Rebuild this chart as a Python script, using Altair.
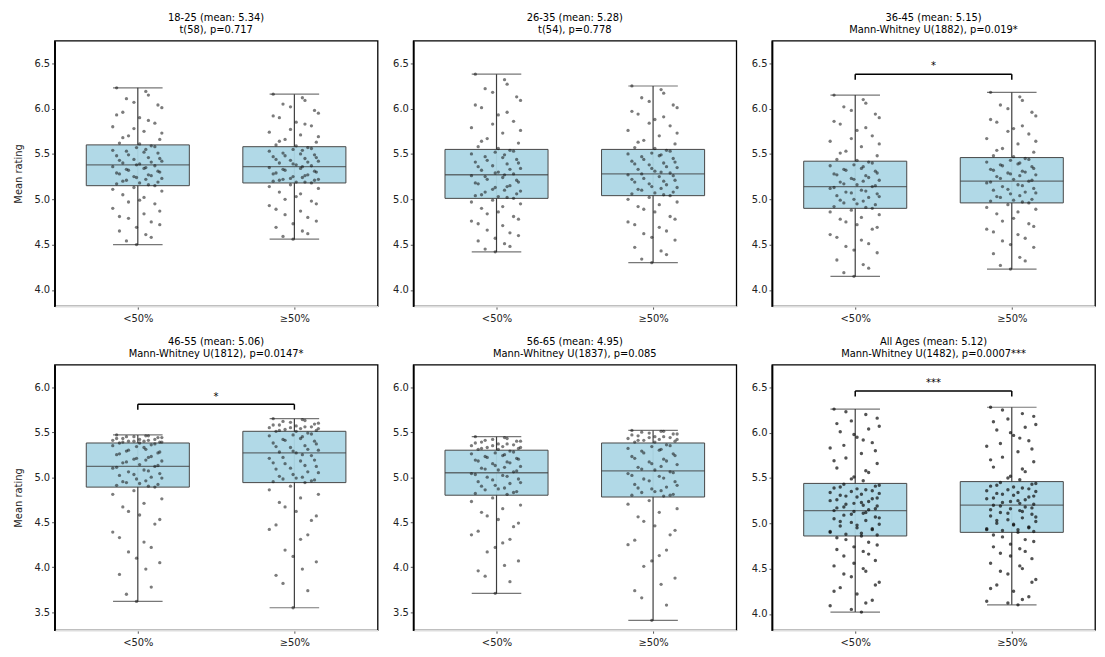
import altair as alt
import pandas as pd

GROUPS = ["<50%", "≥50%"]
TITLES = ["18-25 (mean: 5.34)", "26-35 (mean: 5.28)", "36-45 (mean: 5.15)",
          "46-55 (mean: 5.06)", "56-65 (mean: 4.95)", "All Ages (mean: 5.12)"]
SUBTITLES = ["t(58), p=0.717", "t(54), p=0.778", "Mann-Whitney U(1882), p=0.019*",
             "Mann-Whitney U(1812), p=0.0147*", "Mann-Whitney U(1837), p=0.085",
             "Mann-Whitney U(1482), p=0.0007***"]
Y_TITLE = "Mean rating"

# box statistics per panel: [group A, group B]
WHISK_LO = [[4.50, 4.56], [4.42, 4.30], [4.15, 4.23], [3.62, 3.55], [3.71, 3.41], [4.02, 4.10]]
Q1 = [[5.15, 5.18], [5.01, 5.04], [4.90, 4.96], [4.89, 4.94], [4.80, 4.78], [4.86, 4.90]]
MEDIAN = [[5.38, 5.36], [5.27, 5.28], [5.14, 5.20], [5.12, 5.27], [5.05, 5.07], [5.14, 5.20]]
Q3 = [[5.60, 5.58], [5.55, 5.55], [5.42, 5.46], [5.38, 5.51], [5.30, 5.38], [5.44, 5.46]]
WHISK_HI = [[6.23, 6.16], [6.38, 6.25], [6.15, 6.18], [5.47, 5.65], [5.45, 5.52], [6.26, 6.28]]

Y_DOMAINS = [[3.82, 6.75], [3.82, 6.75], [3.82, 6.75], [3.30, 6.25], [3.30, 6.25], [3.82, 6.75]]
Y_TICKS = [[4.0, 4.5, 5.0, 5.5, 6.0, 6.5]] * 3 + [[3.5, 4.0, 4.5, 5.0, 5.5, 6.0]] * 2 + [[4.0, 4.5, 5.0, 5.5, 6.0, 6.5]]

BRACKET_Y = [None, None, 6.38, 5.81, None, 6.46]
BRACKET_LABEL = ["", "", "*", "*", "", "***"]

P1A = [6.23, 6.15, 6.07, 6.01, 5.96, 5.90, 5.84, 5.80, 5.75, 5.70, 5.66, 5.62,
       5.59, 5.57, 5.55, 5.53, 5.51, 5.48, 5.46, 5.44, 5.42, 5.40, 5.39, 5.37, 5.36, 5.34, 5.32, 5.30, 5.28, 5.26, 5.24, 5.22, 5.21, 5.19, 5.17, 5.16,
       5.13, 5.09, 5.05, 4.99, 4.95, 4.90, 4.84, 4.79, 4.72, 4.65, 4.58, 4.50,
       6.19, 6.11, 6.04, 5.93, 5.87, 5.78, 5.73, 5.68, 5.61,
       5.58, 5.54, 5.52, 5.49, 5.45, 5.43, 5.41, 5.38, 5.35, 5.33, 5.31, 5.29, 5.27, 5.25, 5.23, 5.20, 5.18, 5.15,
       5.11, 5.02, 4.97, 4.87, 4.81, 4.75, 4.69, 4.61, 4.54]
P1B = [6.16, 6.09, 6.02, 5.95, 5.90, 5.85, 5.81, 5.74, 5.71, 5.66, 5.63, 5.60,
       5.57, 5.55, 5.54, 5.51, 5.49, 5.47, 5.45, 5.43, 5.42, 5.40, 5.38, 5.37, 5.35, 5.34, 5.32, 5.30, 5.29, 5.27, 5.25, 5.24, 5.22, 5.21, 5.20, 5.19,
       5.16, 5.12, 5.08, 5.03, 4.98, 4.93, 4.87, 4.83, 4.76, 4.69, 4.62, 4.56,
       6.12, 6.05, 5.98, 5.92, 5.83, 5.77, 5.69, 5.64, 5.59,
       5.56, 5.53, 5.50, 5.48, 5.46, 5.44, 5.41, 5.39, 5.36, 5.33, 5.31, 5.28, 5.26, 5.23, 5.22, 5.21, 5.19, 5.18,
       5.14, 5.06, 5.00, 4.95, 4.89, 4.80, 4.73, 4.65, 4.59]
P2A = [6.38, 6.27, 6.18, 6.09, 6.01, 5.93, 5.86, 5.79, 5.73, 5.67, 5.62, 5.58,
       5.54, 5.52, 5.49, 5.47, 5.44, 5.41, 5.39, 5.37, 5.34, 5.32, 5.30, 5.28, 5.26, 5.24, 5.22, 5.19, 5.17, 5.15, 5.13, 5.10, 5.08, 5.06, 5.04, 5.02,
       4.99, 4.95, 4.90, 4.86, 4.81, 4.76, 4.71, 4.66, 4.60, 4.54, 4.48, 4.42,
       6.32, 6.22, 6.13, 6.04, 5.96, 5.83, 5.76, 5.64, 5.56,
       5.53, 5.50, 5.46, 5.43, 5.40, 5.36, 5.33, 5.29, 5.27, 5.25, 5.21, 5.18, 5.14, 5.11, 5.09, 5.05, 5.03, 5.01,
       4.97, 4.92, 4.84, 4.78, 4.73, 4.63, 4.57, 4.51, 4.45]
P2B = [6.25, 6.17, 6.08, 6.01, 5.94, 5.88, 5.81, 5.76, 5.70, 5.65, 5.61, 5.57,
       5.54, 5.51, 5.49, 5.47, 5.45, 5.42, 5.40, 5.38, 5.35, 5.33, 5.31, 5.29, 5.27, 5.25, 5.23, 5.21, 5.19, 5.16, 5.14, 5.12, 5.10, 5.08, 5.06, 5.05,
       5.02, 4.97, 4.92, 4.86, 4.81, 4.75, 4.69, 4.62, 4.55, 4.47, 4.39, 4.30,
       6.21, 6.12, 6.04, 5.97, 5.91, 5.84, 5.73, 5.63, 5.56,
       5.53, 5.50, 5.48, 5.44, 5.41, 5.39, 5.36, 5.34, 5.30, 5.28, 5.26, 5.22, 5.20, 5.17, 5.13, 5.11, 5.07, 5.04,
       5.00, 4.94, 4.89, 4.78, 4.72, 4.65, 4.58, 4.43, 4.34]
P3A = [6.15, 6.06, 5.98, 5.90, 5.83, 5.76, 5.70, 5.64, 5.58, 5.53, 5.48, 5.44,
       5.41, 5.38, 5.36, 5.33, 5.31, 5.28, 5.26, 5.23, 5.21, 5.19, 5.16, 5.14, 5.12, 5.10, 5.08, 5.06, 5.04, 5.02, 5.00, 4.98, 4.96, 4.94, 4.92, 4.91,
       4.88, 4.83, 4.78, 4.72, 4.67, 4.61, 4.55, 4.48, 4.41, 4.33, 4.24, 4.15,
       6.10, 6.02, 5.94, 5.86, 5.79, 5.67, 5.61, 5.51, 5.43,
       5.40, 5.37, 5.34, 5.32, 5.29, 5.27, 5.24, 5.22, 5.20, 5.17, 5.15, 5.13, 5.09, 5.07, 5.03, 4.99, 4.95, 4.90,
       4.86, 4.80, 4.75, 4.69, 4.58, 4.51, 4.44, 4.28, 4.19]
P3B = [6.18, 6.09, 6.00, 5.92, 5.85, 5.78, 5.72, 5.67, 5.61, 5.56, 5.52, 5.48,
       5.45, 5.43, 5.40, 5.38, 5.36, 5.33, 5.31, 5.29, 5.27, 5.25, 5.22, 5.20, 5.18, 5.16, 5.14, 5.12, 5.10, 5.08, 5.06, 5.04, 5.02, 5.00, 4.98, 4.97,
       4.94, 4.89, 4.84, 4.79, 4.73, 4.67, 4.61, 4.54, 4.47, 4.40, 4.32, 4.23,
       6.13, 6.04, 5.96, 5.88, 5.81, 5.75, 5.64, 5.54, 5.47,
       5.44, 5.41, 5.39, 5.37, 5.34, 5.32, 5.30, 5.28, 5.26, 5.23, 5.21, 5.19, 5.15, 5.11, 5.07, 5.03, 4.99, 4.96,
       4.91, 4.86, 4.76, 4.70, 4.64, 4.57, 4.50, 4.36, 4.27]
P4A = [5.47, 5.46, 5.45, 5.44, 5.43, 5.42, 5.42, 5.41, 5.40, 5.40, 5.39, 5.38,
       5.36, 5.34, 5.31, 5.29, 5.27, 5.25, 5.22, 5.20, 5.18, 5.16, 5.14, 5.12, 5.10, 5.08, 5.06, 5.04, 5.02, 5.00, 4.98, 4.96, 4.94, 4.92, 4.91, 4.90,
       4.85, 4.76, 4.67, 4.58, 4.48, 4.39, 4.28, 4.17, 4.05, 3.92, 3.78, 3.62,
       5.46, 5.45, 5.44, 5.43, 5.41, 5.40, 5.39, 5.39, 5.38,
       5.37, 5.35, 5.33, 5.30, 5.28, 5.26, 5.23, 5.21, 5.19, 5.17, 5.13, 5.11, 5.07, 5.03, 4.99, 4.95, 4.93, 4.89,
       4.81, 4.71, 4.62, 4.53, 4.33, 4.22, 4.10, 3.98, 3.70]
P4B = [5.65, 5.63, 5.61, 5.60, 5.58, 5.57, 5.56, 5.55, 5.54, 5.53, 5.52, 5.51,
       5.49, 5.47, 5.45, 5.42, 5.40, 5.38, 5.35, 5.33, 5.30, 5.28, 5.27, 5.24, 5.21, 5.18, 5.15, 5.12, 5.09, 5.06, 5.03, 5.00, 4.98, 4.97, 4.95, 4.94,
       4.90, 4.81, 4.72, 4.62, 4.52, 4.42, 4.31, 4.19, 4.06, 3.91, 3.74, 3.55,
       5.64, 5.62, 5.59, 5.58, 5.56, 5.55, 5.54, 5.52, 5.51,
       5.48, 5.46, 5.43, 5.41, 5.37, 5.34, 5.31, 5.29, 5.25, 5.22, 5.19, 5.16, 5.13, 5.10, 5.05, 5.01, 4.99, 4.96,
       4.86, 4.77, 4.67, 4.57, 4.47, 4.36, 4.12, 3.98, 3.82]
P5A = [5.45, 5.43, 5.42, 5.40, 5.39, 5.37, 5.36, 5.35, 5.34, 5.33, 5.32, 5.31,
       5.29, 5.27, 5.25, 5.23, 5.21, 5.19, 5.17, 5.15, 5.12, 5.10, 5.08, 5.06, 5.04, 5.02, 5.00, 4.98, 4.95, 4.93, 4.91, 4.88, 4.86, 4.84, 4.82, 4.81,
       4.77, 4.69, 4.61, 4.53, 4.45, 4.36, 4.27, 4.17, 4.07, 3.96, 3.84, 3.71,
       5.44, 5.41, 5.40, 5.38, 5.37, 5.35, 5.33, 5.32, 5.31,
       5.28, 5.26, 5.24, 5.22, 5.20, 5.18, 5.16, 5.13, 5.11, 5.09, 5.07, 5.03, 5.01, 4.97, 4.94, 4.90, 4.87, 4.83,
       4.73, 4.65, 4.57, 4.49, 4.40, 4.31, 4.22, 4.02, 3.90]
P5B = [5.52, 5.51, 5.49, 5.48, 5.46, 5.45, 5.44, 5.43, 5.42, 5.41, 5.40, 5.39,
       5.36, 5.34, 5.31, 5.29, 5.26, 5.23, 5.20, 5.17, 5.14, 5.11, 5.08, 5.06, 5.04, 5.01, 4.98, 4.95, 4.92, 4.89, 4.87, 4.85, 4.83, 4.81, 4.80, 4.79,
       4.74, 4.65, 4.56, 4.46, 4.36, 4.25, 4.13, 4.01, 3.88, 3.74, 3.58, 3.41,
       5.51, 5.50, 5.48, 5.47, 5.45, 5.44, 5.42, 5.41, 5.39,
       5.35, 5.32, 5.30, 5.27, 5.24, 5.21, 5.18, 5.15, 5.12, 5.09, 5.05, 5.02, 4.99, 4.96, 4.91, 4.88, 4.84, 4.80,
       4.70, 4.61, 4.51, 4.41, 4.30, 4.19, 4.07, 3.81, 3.66]
P6A = [6.26, 6.20, 6.13, 6.07, 6.01, 5.95, 5.89, 5.83, 5.77, 5.72, 5.66, 5.61, 5.56, 5.51, 5.47,
       5.43, 5.41, 5.39, 5.37, 5.35, 5.33, 5.31, 5.29, 5.27, 5.25, 5.23, 5.21, 5.19, 5.17, 5.15, 5.13, 5.11, 5.09, 5.07, 5.05, 5.03, 5.01, 4.99, 4.97, 4.95, 4.93, 4.91, 4.89, 4.88, 4.87,
       4.84, 4.79, 4.74, 4.69, 4.64, 4.59, 4.53, 4.47, 4.41, 4.35, 4.29, 4.22, 4.15, 4.09, 4.02,
       6.23, 6.16, 6.10, 6.04, 5.98, 5.92, 5.86, 5.80, 5.69, 5.58, 5.49,
       5.42, 5.40, 5.38, 5.36, 5.34, 5.32, 5.30, 5.28, 5.26, 5.24, 5.22, 5.20, 5.18, 5.16, 5.14, 5.12, 5.10, 5.06, 5.02, 4.98, 4.94, 4.90, 4.86,
       4.82, 4.76, 4.71, 4.66, 4.56, 4.50, 4.44, 4.32, 4.25, 4.12, 4.05]
P6B = [6.28, 6.21, 6.15, 6.09, 6.03, 5.97, 5.91, 5.85, 5.79, 5.73, 5.68, 5.62, 5.57, 5.52, 5.48,
       5.45, 5.43, 5.41, 5.39, 5.37, 5.35, 5.33, 5.31, 5.29, 5.27, 5.25, 5.23, 5.21, 5.20, 5.18, 5.16, 5.14, 5.12, 5.10, 5.08, 5.06, 5.04, 5.02, 5.00, 4.98, 4.96, 4.94, 4.93, 4.92, 4.91,
       4.87, 4.82, 4.77, 4.72, 4.67, 4.61, 4.56, 4.50, 4.44, 4.38, 4.32, 4.25, 4.19, 4.14, 4.10,
       6.25, 6.18, 6.12, 6.06, 6.00, 5.94, 5.88, 5.82, 5.70, 5.60, 5.50,
       5.44, 5.42, 5.40, 5.38, 5.36, 5.34, 5.32, 5.30, 5.28, 5.26, 5.24, 5.22, 5.19, 5.17, 5.15, 5.13, 5.11, 5.07, 5.03, 4.99, 4.95, 4.93, 4.90,
       4.85, 4.80, 4.74, 4.69, 4.64, 4.53, 4.47, 4.35, 4.28, 4.16, 4.12]
POINTS = [[P1A, P1B], [P2A, P2B], [P3A, P3B], [P4A, P4B], [P5A, P5B], [P6A, P6B]]

# fixed horizontal jitter offsets (fraction of strip half-width), cycled
JITTER = [-0.82, 0.41, -0.15, 0.93, -0.58, 0.07, 0.66, -0.97, 0.24, -0.36, 0.85, -0.71, 0.52,
          -0.05, 0.31, -0.44, 0.78]

BOX_COLOR = "#add8e6"
EDGE = "#3d3d3d"
FONT = "DejaVu Sans"
W, H = 326, 268


def panel(i):
    stats = pd.DataFrame({"gi": [0, 1], "lo": WHISK_LO[i], "q1": Q1[i], "med": MEDIAN[i],
                          "q3": Q3[i], "hi": WHISK_HI[i]})
    rows = []
    for gi, vals in enumerate(POINTS[i]):
        for k, v in enumerate(vals):
            rows.append({"xp": gi + JITTER[k % len(JITTER)] * 0.165, "v": v})
    pts = pd.DataFrame(rows)

    xs = alt.Scale(domain=[-0.5, 1.5], nice=False, zero=False)
    ys = alt.Scale(domain=Y_DOMAINS[i], nice=False, zero=False)
    label_expr = f"datum.value == 0 ? '{GROUPS[0]}' : '{GROUPS[1]}'"
    xaxis = alt.Axis(values=[0, 1], labelExpr=label_expr, title=None, grid=False,
                     domainColor="#dddddd", domainWidth=1.5, tickColor="#555", tickSize=3,
                     labelPadding=4)
    yaxis = alt.Axis(values=Y_TICKS[i], format=".1f", grid=False,
                     title=Y_TITLE if i % 3 == 0 else None, titlePadding=10,
                     domainColor="black", domainWidth=1.8, tickColor="#555", tickSize=3)

    x = alt.X("gi:Q", scale=xs, axis=xaxis)
    base = alt.Chart(stats)
    whisk = base.mark_rule(color=EDGE, strokeWidth=1.2).encode(
        x=x, y=alt.Y("lo:Q", scale=ys, axis=yaxis), y2="hi:Q")
    cap_lo = base.mark_tick(orient="horizontal", size=50, thickness=1.2, color=EDGE).encode(
        x=alt.X("gi:Q", scale=xs), y=alt.Y("lo:Q", scale=ys))
    cap_hi = base.mark_tick(orient="horizontal", size=50, thickness=1.2, color=EDGE).encode(
        x=alt.X("gi:Q", scale=xs), y=alt.Y("hi:Q", scale=ys))
    box = base.mark_bar(size=104, color=BOX_COLOR, stroke=EDGE, strokeWidth=1, opacity=0.95).encode(
        x=alt.X("gi:Q", scale=xs), y=alt.Y("q1:Q", scale=ys), y2="q3:Q")
    med = base.mark_tick(orient="horizontal", size=104, thickness=1.4, color=EDGE).encode(
        x=alt.X("gi:Q", scale=xs), y=alt.Y("med:Q", scale=ys))
    dots = alt.Chart(pts).mark_circle(size=12 if i == 5 else 11, color="#111111",
                                      opacity=0.72 if i == 5 else 0.55).encode(
        x=alt.X("xp:Q", scale=xs), y=alt.Y("v:Q", scale=ys))

    layers = [whisk, cap_lo, cap_hi, box, med, dots]
    if BRACKET_Y[i] is not None:
        by = BRACKET_Y[i]
        bdf = pd.DataFrame({"x0": [0], "x1": [1], "y": [by], "yl": [by - 0.06],
                            "xm": [0.5], "yt": [by + 0.03], "lab": [BRACKET_LABEL[i]]})
        bb = alt.Chart(bdf)
        layers.append(bb.mark_rule(color="black", strokeWidth=1.5).encode(
            x=alt.X("x0:Q", scale=xs), x2="x1:Q", y=alt.Y("y:Q", scale=ys)))
        layers.append(bb.mark_rule(color="black", strokeWidth=1.5).encode(
            x=alt.X("x0:Q", scale=xs), y=alt.Y("yl:Q", scale=ys), y2="y:Q"))
        layers.append(bb.mark_rule(color="black", strokeWidth=1.5).encode(
            x=alt.X("x1:Q", scale=xs), y=alt.Y("yl:Q", scale=ys), y2="y:Q"))
        layers.append(bb.mark_text(fontSize=10, font=FONT, baseline="bottom", color="black").encode(
            x=alt.X("xm:Q", scale=xs), y=alt.Y("yt:Q", scale=ys), text="lab:N"))

    return alt.layer(*layers).properties(
        width=W, height=H,
        title=alt.TitleParams(text=[TITLES[i], SUBTITLES[i]], fontSize=10, fontWeight="normal",
                              font=FONT, anchor="middle", lineHeight=12, offset=6, color="black"))


row1 = alt.hconcat(panel(0), panel(1), panel(2), spacing=13)
row2 = alt.hconcat(panel(3), panel(4), panel(5), spacing=13)
chart = alt.vconcat(row1, row2, spacing=12).properties(
    padding={"left": 5, "top": 1, "right": 1, "bottom": 1}
).configure_view(
    stroke="black", strokeWidth=1.3
).configure_axis(
    labelFont=FONT, titleFont=FONT, labelFontSize=10, titleFontSize=10,
    labelColor="#222", titleColor="#222", titleFontWeight="normal"
)

chart.save("out.html", embed_options={"renderer": "svg", "actions": False})
